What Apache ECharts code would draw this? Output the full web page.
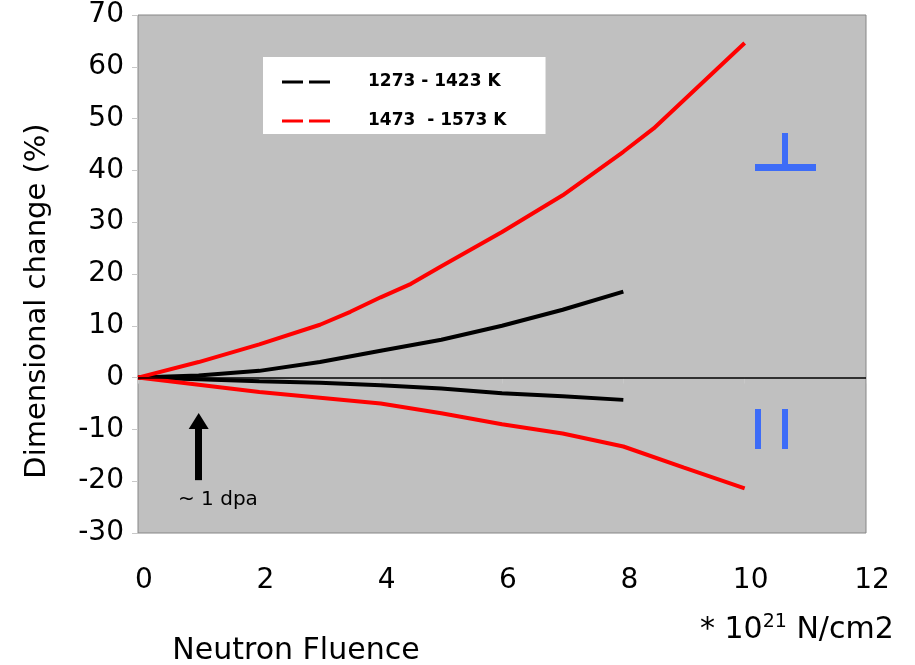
<!DOCTYPE html>
<html>
<head>
<meta charset="utf-8">
<script src="https://cdn.jsdelivr.net/npm/echarts@6/dist/echarts.min.js"></script>
<style>
  html, body { margin: 0; padding: 0; background: #fff; }
  #chart { width: 915px; height: 665px; }
</style>
</head>
<body>
<div id="chart"></div>
<script>
// 数据 (fluence in 1e21 N/cm2, dimensional change in %)
var blackX = [0, 1, 2, 3, 4, 5, 6, 7, 8];
var blackUpper = [0, 0.4, 1.3, 3.0, 5.2, 7.3, 10.0, 13.1, 16.6];
var blackLower = [0, -0.3, -0.7, -1.0, -1.5, -2.1, -3.0, -3.6, -4.3];

var redUpperX = [0, 1, 2, 3, 3.5, 4, 4.5, 5, 6, 7, 7.5, 8, 8.5, 9, 10];
var redUpper = [0, 3.0, 6.4, 10.2, 12.7, 15.5, 18.1, 21.5, 28.1, 35.2, 39.4, 43.6, 48.1, 53.6, 64.6];
var redLowerX = [0, 1, 2, 3, 4, 5, 6, 7, 8, 9, 10];
var redLower = [0, -1.4, -2.8, -3.9, -5.0, -6.9, -9.0, -10.8, -13.3, -17.4, -21.4];

var xTicks = [0, 2, 4, 6, 8, 10, 12];
var seriesNames = ['1273 - 1423 K', '1473  - 1573 K'];

function pairs(xs, ys) {
    var out = [];
    for (var i = 0; i < xs.length; i++) out.push([xs[i], ys[i]]);
    return out;
}

var myChart = echarts.init(document.getElementById('chart'));
var numFont = 'DejaVu Sans';
var blue = '#3d6cf7';
// 图例图标: 两段短划线 (the lone M points fix the box to 48x14)
var dashIcon = 'path://M0,0M48,14M0,5.5h21v3h-21zM27,5.5h21v3h-21z';

option = {
    animation: false,
    backgroundColor: '#fff',
    grid: {
        left: 138, right: 49, top: 15, bottom: 132,
        show: true,
        backgroundColor: '#c0c0c0',
        borderColor: '#868686',
        borderWidth: 1
    },
    legend: {
        left: 263, top: 57,
        orient: 'vertical',
        backgroundColor: '#fff',
        padding: [15, 39, 3, 19],
        itemGap: 19,
        itemWidth: 48,
        itemHeight: 14,
        textStyle: {
            fontFamily: numFont, fontWeight: 'bold', fontSize: 17,
            color: '#000', lineHeight: 20,
            padding: [0, 0, 0, 33]
        },
        data: [
            { name: seriesNames[0], icon: dashIcon, itemStyle: { color: '#000' } },
            { name: seriesNames[1], icon: dashIcon, itemStyle: { color: '#ff0000' } }
        ]
    },
    xAxis: {
        type: 'value',
        min: 0, max: 12, interval: 2,
        axisLine: { show: false },
        axisTick: { show: true, length: 6, lineStyle: { color: '#c8c8c8' } },
        splitLine: { show: false },
        axisLabel: {
            fontFamily: numFont, fontSize: 28, color: '#000', margin: 34,
            padding: [0, 0, 0, 12],
            formatter: function (v) { return xTicks.indexOf(v) >= 0 ? String(v) : ''; }
        }
    },
    yAxis: {
        type: 'value',
        min: -30, max: 70, interval: 10,
        axisLine: { show: false },
        axisTick: { show: true, length: 6, lineStyle: { color: '#c8c8c8' } },
        splitLine: { show: false },
        axisLabel: { fontFamily: numFont, fontSize: 28, color: '#000', margin: 14 }
    },
    graphic: [
        // 轴标题
        {
            type: 'text', x: 37, y: 301, rotation: Math.PI / 2,
            style: {
                text: 'Dimensional change (%)', fontFamily: numFont, fontSize: 29,
                fill: '#000', align: 'center', verticalAlign: 'middle'
            }
        },
        {
            type: 'text', x: 296, y: 651,
            style: {
                text: 'Neutron Fluence', fontFamily: numFont, fontSize: 30,
                fill: '#000', align: 'center', verticalAlign: 'middle'
            }
        },
        {
            type: 'text', x: 700, y: 630,
            style: {
                text: '{a|* 10}{b|21}{a| N/cm2}',
                verticalAlign: 'middle',
                rich: {
                    a: { fontFamily: numFont, fontSize: 30, color: '#000' },
                    b: { fontFamily: numFont, fontSize: 19, color: '#000', padding: [0, 0, 16, 0] }
                }
            }
        },
        {
            type: 'text', x: 178, y: 500,
            style: {
                text: '~ 1 dpa', fontFamily: numFont, fontSize: 20,
                fill: '#000', verticalAlign: 'middle'
            }
        },
        // 垂直 / 平行 符号
        { type: 'rect', shape: { x: 755, y: 164, width: 61, height: 7 }, style: { fill: blue } },
        { type: 'rect', shape: { x: 782, y: 133, width: 6, height: 33 }, style: { fill: blue } },
        { type: 'rect', shape: { x: 755, y: 409, width: 6, height: 40 }, style: { fill: blue } },
        { type: 'rect', shape: { x: 782, y: 409, width: 6, height: 40 }, style: { fill: blue } }
    ],
    series: [
        {
            name: seriesNames[0], type: 'line', symbol: 'none',
            lineStyle: { color: '#000', width: 4 }, itemStyle: { color: '#000' },
            data: pairs(blackX, blackUpper),
            markLine: {
                silent: true, symbol: 'none', label: { show: false },
                lineStyle: { color: '#000', width: 1.5, type: 'solid' },
                data: [{ yAxis: 0 }]
            }
        },
        {
            name: seriesNames[0], type: 'line', symbol: 'none',
            lineStyle: { color: '#000', width: 4 }, itemStyle: { color: '#000' },
            data: pairs(blackX, blackLower),
            markLine: {
                silent: true, symbol: ['none', 'triangle'], symbolSize: [20, 16],
                label: { show: false },
                lineStyle: { color: '#000', width: 7, type: 'solid' },
                itemStyle: { color: '#000' },
                data: [[{ coord: [1, -19.8] }, { coord: [1, -8.4] }]]
            }
        },
        {
            name: seriesNames[1], type: 'line', symbol: 'none',
            lineStyle: { color: '#ff0000', width: 4 }, itemStyle: { color: '#ff0000' },
            data: pairs(redUpperX, redUpper)
        },
        {
            name: seriesNames[1], type: 'line', symbol: 'none',
            lineStyle: { color: '#ff0000', width: 4 }, itemStyle: { color: '#ff0000' },
            data: pairs(redLowerX, redLower)
        }
    ]
};
myChart.setOption(option);
</script>
</body>
</html>
